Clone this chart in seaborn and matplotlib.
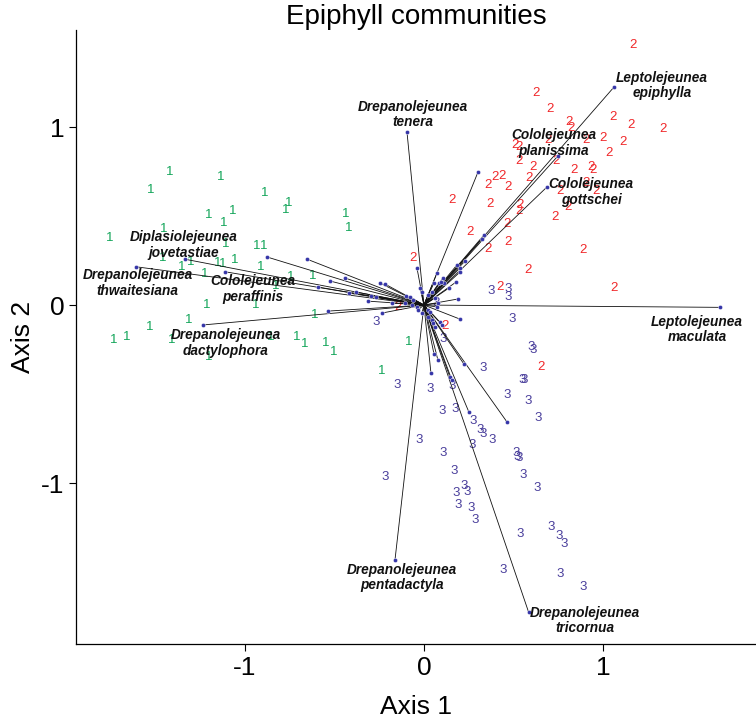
import numpy as np
import pandas as pd
import matplotlib
matplotlib.use("Agg")
import matplotlib.pyplot as plt
import seaborn as sns

# site scores (axis 1, axis 2) per community group
g1_x = [-1.419, -1.134, -1.525, -0.888, -0.771, -0.754, -1.201, -1.067, -1.117, -1.453,
        -1.754, -1.106, -0.933, -0.894, -1.458, -1.302, -1.151, -1.123, -1.056, -1.352,
        -0.911, -1.223, -0.743, -0.827, -0.620, -1.212, -0.939, -0.609, -1.313, -1.531,
        -1.732, -1.659, -1.408, -0.855, -0.709, -0.665, -0.547, -0.503, -0.084, -0.235,
        -0.436, -0.419, -1.200]
g1_y = [0.747, 0.719, 0.646, 0.629, 0.534, 0.573, 0.506, 0.528, 0.461, 0.427,
        0.376, 0.343, 0.331, 0.331, 0.264, 0.242, 0.236, 0.230, 0.253, 0.213,
        0.213, 0.174, 0.157, 0.107, 0.163, 0.000, 0.000, -0.056, -0.084, -0.124,
        -0.197, -0.180, -0.197, -0.180, -0.180, -0.219, -0.213, -0.264, -0.208, -0.371,
        0.511, 0.433, -0.290]

g2_x = [1.168, 0.626, 0.704, 0.810, 0.821, 1.056, 1.156, 1.335, 1.000, 1.112,
        1.034, 0.508, 0.531, 0.693, 0.905, 0.531, 0.609, 0.737, 0.587, 0.838,
        0.933, 0.944, 0.397, 0.436, 0.358, 0.469, 0.760, 0.905, 0.961, 0.156,
        0.369, 0.536, 0.531, 0.804, 0.732, 0.464, 0.257, 0.469, 0.358, 0.888,
        0.581, 1.061, 0.425, -0.061, -0.145, 0.117, 0.654]
g2_y = [1.461, 1.191, 1.101, 1.028, 0.994, 1.056, 1.011, 0.989, 0.938, 0.916,
        0.854, 0.899, 0.888, 0.927, 0.927, 0.809, 0.775, 0.809, 0.713, 0.758,
        0.775, 0.758, 0.719, 0.725, 0.674, 0.663, 0.640, 0.685, 0.640, 0.590,
        0.567, 0.562, 0.528, 0.551, 0.494, 0.455, 0.410, 0.354, 0.315, 0.309,
        0.197, 0.096, 0.101, 0.264, -0.011, -0.118, -0.348]

g3_x = [0.374, 0.469, 0.469, 0.492, 0.598, 0.609, 0.330, 0.547, 0.559, 0.464,
        0.581, 0.637, -0.151, 0.034, 0.156, 0.101, 0.173, 0.274, 0.313, 0.330,
        0.380, -0.028, 0.106, 0.268, 0.514, 0.520, 0.531, 0.553, 0.631, 0.168,
        0.223, 0.240, 0.179, 0.190, 0.263, 0.285, -0.218, 0.536, 0.709, 0.754,
        0.782, 0.441, 0.760, 0.888, -0.268, 0.106, 0.067]
g3_y = [0.079, 0.090, 0.045, -0.079, -0.236, -0.253, -0.354, -0.421, -0.421, -0.506,
        -0.539, -0.635, -0.449, -0.472, -0.455, -0.596, -0.584, -0.652, -0.702, -0.725,
        -0.758, -0.758, -0.831, -0.787, -0.831, -0.854, -0.860, -0.955, -1.028, -0.933,
        -1.017, -1.051, -1.056, -1.124, -1.140, -1.208, -0.966, -1.287, -1.247, -1.298,
        -1.343, -1.489, -1.511, -1.584, -0.096, -0.191, 0.011]

# named species vectors
species = ["Drepanolejeunea\ntenera", "Leptolejeunea\nepiphylla", "Cololejeunea\nplanissima",
           "Cololejeunea\ngottschei", "Leptolejeunea\nmaculata", "Drepanolejeunea\ntricornua",
           "Drepanolejeunea\npentadactyla", "Drepanolejeunea\ndactylophora",
           "Drepanolejeunea\nthwaitesiana", "Diplasiolejeunea\njovetastiae",
           "Cololejeunea\nperaffinis"]
sp_x = [-0.095, 1.063, 0.750, 0.685, 1.654, 0.585, -0.162, -1.236, -1.609, -1.333, -1.112]
sp_y = [0.974, 1.226, 0.839, 0.661, -0.013, -1.726, -1.433, -0.112, 0.215, 0.257, 0.187]
lab_x = [-0.061, 1.330, 0.726, 0.933, 1.525, 0.899, -0.123, -1.106, -1.598, -1.341, -0.955]
lab_y = [1.070, 1.234, 0.910, 0.635, -0.135, -1.774, -1.528, -0.213, 0.124, 0.337, 0.090]

# other (unlabelled) species vectors
oth_x = [-0.877, -0.654, -0.441, -0.525, -0.592, -0.419, -0.380, -0.246, -0.218, -0.313,
         -0.296, -0.268, -0.536, -0.235, -0.179, -0.101, -0.078, -0.061, -0.106, -0.067,
         -0.022, -0.011, -0.039, 0.302, 0.335, 0.324, 0.184, 0.201, 0.229, 0.179,
         0.140, 0.112, 0.084, 0.056, 0.045, 0.022, 0.201, 0.073, 0.095, 0.106,
         0.061, 0.190, 0.201, 0.223, 0.039, 0.056, 0.078, 0.251, 0.464, 0.145,
         0.156, -0.039, -0.034, -0.011, 0.022, 0.034, 0.022, 0.045, 0.050, 0.061,
         0.089, 0.101, 0.078, 0.073]
oth_y = [0.270, 0.258, 0.152, 0.135, 0.101, 0.067, 0.073, 0.124, 0.118, 0.022,
         0.051, 0.045, -0.034, -0.045, 0.011, 0.051, 0.045, 0.028, 0.011, 0.000,
         0.096, 0.073, 0.208, 0.747, 0.393, 0.371, 0.225, 0.208, 0.247, 0.129,
         0.096, 0.124, 0.124, 0.124, 0.073, 0.056, 0.185, 0.180, 0.129, 0.152,
         0.039, 0.034, -0.079, -0.331, -0.382, -0.275, -0.309, -0.601, -0.657, -0.404,
         -0.421, -0.011, -0.028, -0.045, -0.028, -0.039, -0.067, -0.084, -0.101, -0.124,
         -0.096, -0.112, 0.011, -0.011]

sites = pd.DataFrame({
    "x": g1_x + g2_x + g3_x,
    "y": g1_y + g2_y + g3_y,
    "group": ["1"] * len(g1_x) + ["2"] * len(g2_x) + ["3"] * len(g3_x),
})
vec = pd.DataFrame({"x": sp_x + oth_x, "y": sp_y + oth_y})
group_colors = {"1": "#13a55a", "2": "#f0282a", "3": "#4a3f9c"}

sns.set_theme(style="ticks")
plt.rcParams['font.family'] = ['Liberation Sans', 'DejaVu Sans']
plt.rcParams['axes.unicode_minus'] = False
plt.rcParams['text.color'] = 'black'
plt.rcParams['axes.labelcolor'] = 'black'
plt.rcParams['xtick.color'] = 'black'
plt.rcParams['ytick.color'] = 'black'

fig = plt.figure(figsize=(7.56, 7.19), dpi=100)
ax = fig.add_axes([0.1005, 0.1043, 0.8995, 0.8540])

# site labels as coloured numbers
for _, r in sites.iterrows():
    ax.text(r["x"], r["y"], r["group"], color=group_colors[r["group"]],
            fontsize=9.5, ha="center", va="center", zorder=2)

# species arrows (lines from origin) and end points
for x, y in zip(vec["x"], vec["y"]):
    ax.plot([0, x], [0, y], color="#111111", lw=0.6, zorder=3)
sns.scatterplot(data=vec, x="x", y="y", color="#3535a8", s=9, edgecolor="white",
                linewidth=0.3, zorder=4, ax=ax, legend=False)

for name, lx, ly in zip(species, lab_x, lab_y):
    ax.text(lx, ly, name, fontsize=9.8, fontweight="bold", fontstyle="italic",
            ha="center", va="center", linespacing=1.1, color="#111111", zorder=5)

ax.set_xlim(-1.944, 1.855)
ax.set_ylim(-1.904, 1.545)
ax.set_xticks([-1, 0, 1])
ax.set_yticks([-1, 0, 1])
ax.tick_params(labelsize=19, length=5, width=0.8, color="black")
ax.set_xlabel("Axis 1", fontsize=19, labelpad=11)
ax.set_ylabel("Axis 2", fontsize=19, labelpad=4)
ax.set_title("Epiphyll communities", fontsize=20, pad=-1)
for s in ["left", "bottom"]:
    ax.spines[s].set_linewidth(0.9)
    ax.spines[s].set_color("black")
sns.despine(ax=ax)

fig.savefig("out.png", dpi=100)
